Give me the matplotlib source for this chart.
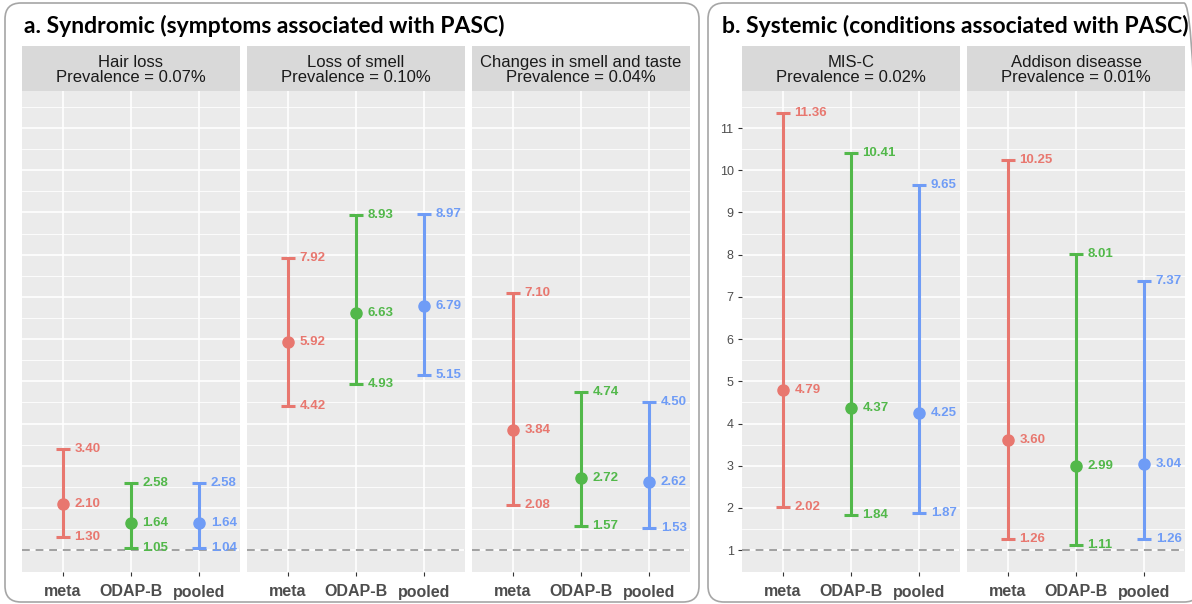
import numpy as np
import matplotlib
matplotlib.use("Agg")
import matplotlib.pyplot as plt
from matplotlib.patches import FancyBboxPatch

# data
methods = ["meta", "ODAP-B", "pooled"]
colors = ["#E8776F", "#52B84A", "#6F9CF6"]

syn_names = ["Hair loss", "Loss of smell", "Changes in smell and taste"]
syn_prev = ["0.07%", "0.10%", "0.04%"]
syn_est = [[2.10, 1.64, 1.64], [5.92, 6.63, 6.79], [3.84, 2.72, 2.62]]
syn_low = [[1.30, 1.05, 1.04], [4.42, 4.93, 5.15], [2.08, 1.57, 1.53]]
syn_up = [[3.40, 2.58, 2.58], [7.92, 8.93, 8.97], [7.10, 4.74, 4.50]]

sys_names = ["MIS-C", "Addison diseasse"]
sys_prev = ["0.02%", "0.01%"]
sys_est = [[4.79, 4.37, 4.25], [3.60, 2.99, 3.04]]
sys_low = [[2.02, 1.84, 1.87], [1.26, 1.11, 1.26]]
sys_up = [[11.36, 10.41, 9.65], [10.25, 8.01, 7.37]]

W, H = 1192, 604
fig = plt.figure(figsize=(W / 100, H / 100), dpi=100)
plt.rcParams['font.family'] = ['Liberation Sans', 'DejaVu Sans']

def px_axes(x0, y0, x1, y1):
    return fig.add_axes([x0 / W, 1 - y1 / H, (x1 - x0) / W, (y1 - y0) / H])

# rounded boxes around each panel group
for (bx0, bx1) in [(5, 699), (708, 1200)]:
    box = FancyBboxPatch((bx0 / 100, (H - 602) / 100), (bx1 - bx0) / 100, (602 - 3) / 100,
                         boxstyle="round,pad=0,rounding_size=0.16",
                         transform=fig.dpi_scale_trans, facecolor="none",
                         edgecolor="#A6A6A6", linewidth=1.2, zorder=-5)
    fig.patches.append(box)

fig.text(24 / W, 1 - 26 / H, "a. Syndromic (symptoms associated with PASC)",
         fontsize=16.5, fontweight="bold", family=["Lato", "DejaVu Sans"],
         va="center", ha="left")
fig.text(722 / W, 1 - 26 / H, "b. Systemic (conditions associated with PASC)",
         fontsize=16.5, fontweight="bold", family=["Lato", "DejaVu Sans"],
         va="center", ha="left")

ylim = (0.482, 11.878)
strip_top, panel_top, panel_bot = 46, 91, 572

def draw_facet(x0, x1, name, prev, est, low, up, show_y):
    ax = px_axes(x0, panel_top, x1, panel_bot)
    ax.set_facecolor("#EBEBEB")
    ax.set_xlim(0.4, 3.6)
    ax.set_ylim(*ylim)
    ax.set_yticks(range(1, 12))
    ax.set_yticks(np.arange(1.5, 11.6, 1.0), minor=True)
    ax.set_xticks([1, 2, 3])
    ax.set_xticklabels(methods, fontsize=11.5, fontweight="bold", color="#4D4D4D")
    ax.grid(which="major", color="white", linewidth=1.2)
    ax.grid(which="minor", axis="y", color="white", linewidth=0.6)
    ax.set_axisbelow(True)
    for s in ax.spines.values():
        s.set_visible(False)
    ax.tick_params(axis="x", length=3, color="#333333", pad=6)
    ax.tick_params(which="minor", length=0)
    if show_y:
        ax.tick_params(axis="y", length=3, color="#333333", labelsize=9, labelcolor="#4D4D4D", pad=3)
    else:
        ax.tick_params(axis="y", length=0, labelleft=False)
    ax.axhline(1, color="#A0A0A0", linestyle=(0, (4, 3)), linewidth=1.4, zorder=1)
    for i in range(3):
        xi = i + 1
        c = colors[i]
        ax.errorbar([xi], [est[i]], yerr=[[est[i] - low[i]], [up[i] - est[i]]],
                    fmt="o", color=c, ecolor=c, markersize=8, elinewidth=2.2,
                    capsize=4.8, capthick=2.2, zorder=3)
        for v in (low[i], est[i], up[i]):
            ax.text(xi + 0.17, v, f"{v:.2f}", color=c, fontsize=9.5,
                    fontweight="bold", va="center", ha="left", zorder=4)
    # strip
    sax = px_axes(x0, strip_top, x1, panel_top)
    sax.set_facecolor("#D9D9D9")
    sax.set_xticks([])
    sax.set_yticks([])
    for s in sax.spines.values():
        s.set_visible(False)
    sax.text(0.5, 0.47, f"{name}\nPrevalence = {prev}", ha="center", va="center",
             fontsize=12, color="#1A1A1A", transform=sax.transAxes, linespacing=1.0)
    return ax

syn_x = [(22, 240), (247, 465), (472, 690)]
for k in range(3):
    draw_facet(syn_x[k][0], syn_x[k][1], syn_names[k], syn_prev[k],
               syn_est[k], syn_low[k], syn_up[k], False)

sys_x = [(742, 960), (967, 1185)]
for k in range(2):
    draw_facet(sys_x[k][0], sys_x[k][1], sys_names[k], sys_prev[k],
               sys_est[k], sys_low[k], sys_up[k], k == 0)

fig.savefig("out.png", dpi=100)
